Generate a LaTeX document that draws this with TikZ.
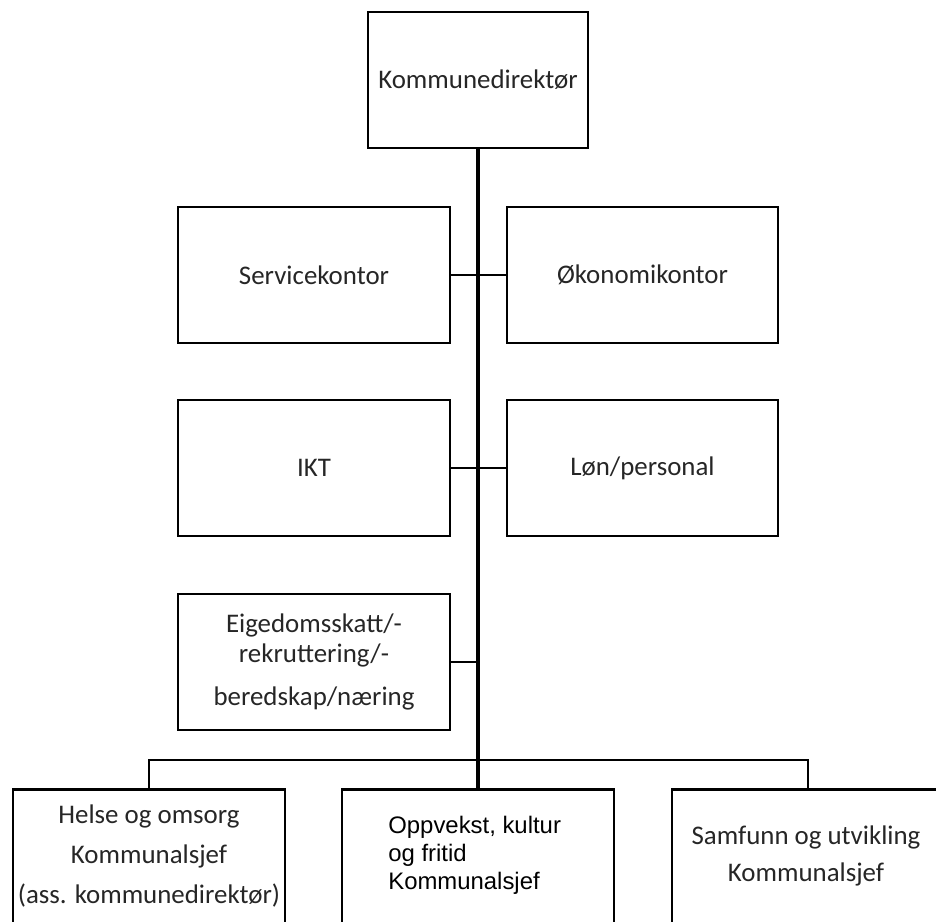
\documentclass[tikz,border=0pt]{standalone}
\usepackage{fontspec}
\setmainfont{Carlito}
\newfontfamily\arialfont{Liberation Sans}
\usetikzlibrary{positioning,calc}

\begin{document}
\begin{tikzpicture}[x=0.02cm, y=-0.02cm]
\tikzset{
    unit/.style={draw, line width=1.5pt, minimum width=5.44cm, minimum height=2.72cm,
        inner sep=0pt, align=center, text=black!85, font=\fontsize{15.3}{18}\selectfont},
    sjef/.style={draw, line width=1.5pt, minimum width=5.44cm, minimum height=4cm,
        inner sep=0pt, anchor=north},
    trunk/.style={line width=2pt},
    stub/.style={line width=1.4pt}
}
\useasboundingbox (0,0) rectangle (936,921);
\clip (0,0) rectangle (936,921);
  % boxes
\node[unit, minimum width=4.4cm] (dir) at (478,80) {Kommunedirektør};
\node[unit] (service) at (314,275) {Servicekontor};
\node[unit, minimum width=5.42cm] (okonomi) at (642.5,275) {Økonomikontor};
\node[unit] (ikt) at (314,468) {IKT};
\node[unit, minimum width=5.42cm] (lon) at (642.5,468) {Løn/personal};
\node[unit, font=\fontsize{15.3}{17}\selectfont] (eiged) at (314,662)
  {Eigedomsskatt/-\\rekruttering/-\\[8pt]beredskap/næring};
\node[sjef] (helse) at (149,788) {};
\node[sjef] (oppv) at (478,788) {};
\node[sjef] (samf) at (808,788) {};
  % texts of the lower boxes
\node[align=center, text=black!85, font=\fontsize{15.3}{22.5}\selectfont] (helsetxt) at (149,856)
  {Helse og omsorg\\Kommunalsjef\\(ass. kommunedirektør)};
\node[align=left, anchor=west, inner sep=0pt, font=\arialfont\fontsize{13.6}{16}\selectfont] (oppvtxt) at (388,855)
  {Oppvekst, kultur\\og fritid\\Kommunalsjef};
\node[align=center, text=black!85, font=\fontsize{15.3}{21.5}\selectfont] (samftxt) at (806,856)
  {Samfunn og utvikling\\Kommunalsjef};
  % lines
\coordinate (bus) at (478,760);
\draw[trunk] (dir.south) -- (oppv.north);
\draw[stub] (helse.north) |- (bus) -| (samf.north);
\draw[stub] (service.east) -- (okonomi.west);
\draw[stub] (ikt.east) -- (lon.west);
\draw[stub] (eiged.east) -- (eiged.east -| dir.south);
\end{tikzpicture}
\end{document}
